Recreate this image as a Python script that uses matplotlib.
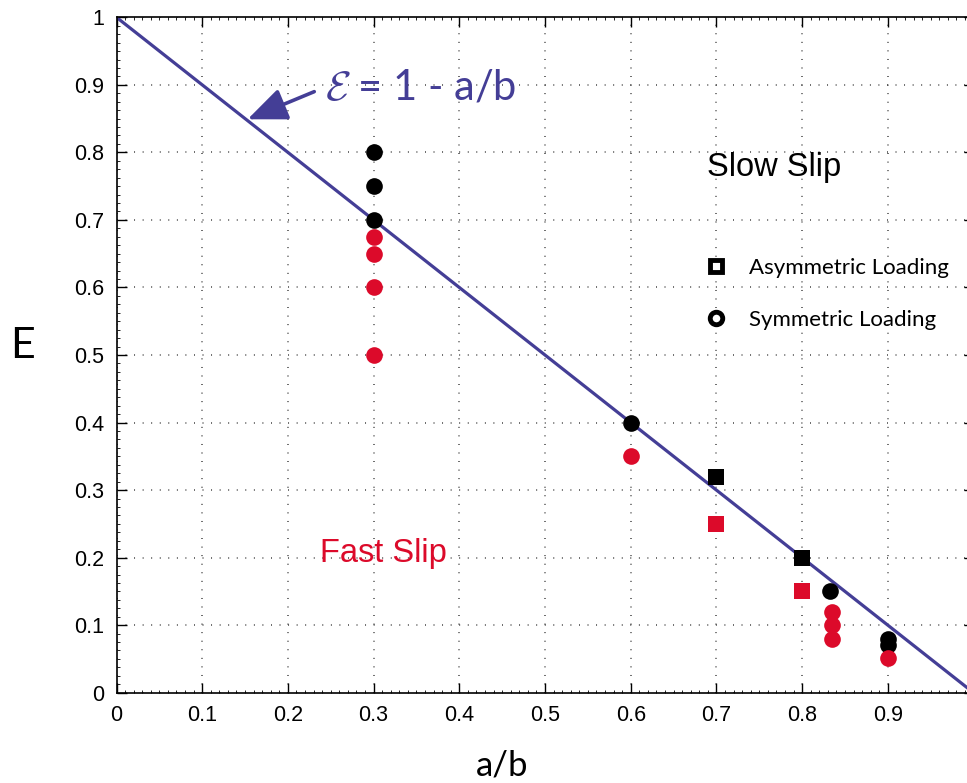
import numpy as np
import matplotlib.pyplot as plt
from matplotlib.lines import Line2D
from matplotlib.ticker import MultipleLocator

# Slip regime versus geometry ratio a/b
line_x = [0.0, 1.0]
line_y = [1.0, 0.0]

# symmetric loading (circles)
sym_slow_x = [0.3, 0.3, 0.3, 0.6, 0.833, 0.9, 0.9]
sym_slow_y = [0.80, 0.75, 0.70, 0.40, 0.15, 0.08, 0.07]
sym_fast_x = [0.3, 0.3, 0.3, 0.3, 0.6, 0.835, 0.835, 0.835, 0.9]
sym_fast_y = [0.675, 0.65, 0.60, 0.50, 0.35, 0.119, 0.10, 0.079, 0.052]

# asymmetric loading (squares)
asym_slow_x = [0.7, 0.8]
asym_slow_y = [0.32, 0.20]
asym_fast_x = [0.7, 0.8]
asym_fast_y = [0.25, 0.15]

x_ticks = [0, 0.1, 0.2, 0.3, 0.4, 0.5, 0.6, 0.7, 0.8, 0.9, 1.0]
x_tick_labels = ["0", "0.1", "0.2", "0.3", "0.4", "0.5", "0.6", "0.7", "0.8", "0.9", "1"]
y_ticks = [0, 0.1, 0.2, 0.3, 0.4, 0.5, 0.6, 0.7, 0.8, 0.9, 1.0]
y_tick_labels = ["0", "0.1", "0.2", "0.3", "0.4", "0.5", "0.6", "0.7", "0.8", "0.9", "1"]

line_color = "#443e96"
red = "#dc0a2a"

plt.rcParams["mathtext.fontset"] = "cm"

fig = plt.figure(figsize=(9.67, 7.83), dpi=100)
ax = fig.add_axes([116.5 / 967, (783 - 692.7) / 783, 857 / 967, 675.4 / 783])

ax.plot(line_x, line_y, color=line_color, lw=2.3, zorder=2)

ms = 12
ax.plot(sym_slow_x, sym_slow_y, "o", color="black", ms=ms, mew=0, zorder=3)
ax.plot(asym_slow_x, asym_slow_y, "s", color="black", ms=ms, mew=0, zorder=3)
ax.plot(sym_fast_x, sym_fast_y, "o", color=red, ms=ms, mew=0, zorder=4)
ax.plot(asym_fast_x, asym_fast_y, "s", color=red, ms=ms, mew=0, zorder=4)

ax.set_xlim(0, 1)
ax.set_ylim(0, 1)
ax.set_xticks(x_ticks)
ax.set_xticklabels(x_tick_labels, fontfamily="Liberation Sans", fontsize=15.5)
ax.set_yticks(y_ticks)
ax.set_yticklabels(y_tick_labels, fontfamily="Liberation Sans", fontsize=15.5)
ax.xaxis.set_minor_locator(MultipleLocator(0.01))
ax.yaxis.set_minor_locator(MultipleLocator(0.0125))
ax.tick_params(which="both", direction="in", top=True, right=True, width=1.0)
ax.tick_params(which="major", length=7, pad=9)
ax.tick_params(which="minor", length=2.2, width=0.6)
for s in ax.spines.values():
    s.set_linewidth(1.2)

ax.grid(True, which="major", color="#333333", lw=1.1, linestyle=(0, (0.6, 5.0)))
ax.set_axisbelow(True)

ax.set_xlabel("a/b", fontfamily="Lato", fontsize=25)
ax.xaxis.set_label_coords(0.45, -0.1085)
ax.xaxis.label.set_va("center")
ax.set_ylabel("E", fontfamily="Lato", fontsize=31, rotation=0)
ax.yaxis.set_label_coords(-0.1093, 0.513)
ax.yaxis.label.set_va("center")
ax.yaxis.label.set_ha("center")

ax.annotate(r"$\mathcal{E}$ = 1 - a/b", xy=(0.153, 0.849), xytext=(0.243, 0.8786),
            fontfamily="Lato", fontsize=30, color=line_color, ha="left", va="baseline",
            arrowprops=dict(arrowstyle="-|>,head_length=1.2,head_width=0.5",
                            mutation_scale=20, color=line_color, lw=2.6,
                            shrinkA=6, shrinkB=0, relpos=(0, 0.5)))

ax.text(0.689, 0.765, "Slow Slip", fontfamily="Liberation Sans", fontsize=23.5,
        color="black", ha="left", va="baseline")
ax.text(0.238, 0.194, "Fast Slip", fontfamily="Liberation Sans", fontsize=23.5,
        color=red, ha="left", va="baseline")

handles = [
    Line2D([], [], ls="none", marker="s", ms=9, mfc="white", mec="black", mew=3.5),
    Line2D([], [], ls="none", marker="o", ms=9, mfc="white", mec="black", mew=3.5),
]
ax.legend(handles, ["Asymmetric Loading", "Symmetric Loading"], loc="upper left",
          bbox_to_anchor=(0.687, 0.644), frameon=False, borderpad=0, borderaxespad=0,
          handlelength=1.0, handletextpad=0.95, labelspacing=1.44,
          prop={"family": "Lato", "size": 16})

fig.savefig("out.png", dpi=100)
